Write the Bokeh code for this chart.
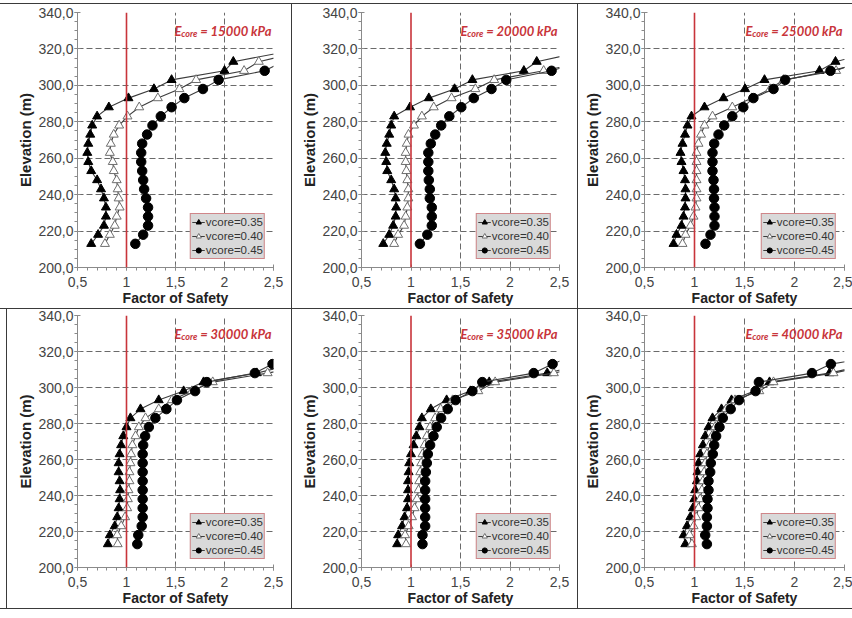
from bokeh.plotting import figure
from bokeh.layouts import row, column
from bokeh.models import (Range1d, SingleIntervalTicker, FixedTicker, Span, Label,
                          Legend, LegendItem, Spacer)
from bokeh.embed import file_html
from bokeh.resources import INLINE

# ---------------- data ----------------
ELEVATION = [213, 218, 223, 228, 233, 238, 243, 248, 253, 258, 263,
             268, 273, 278, 283, 288, 293, 298, 303, 308, 313, 318]

SERIES_LABELS = ["vcore=0.35", "vcore=0.40", "vcore=0.45"]
E_CORE = ["15000", "20000", "25000", "30000", "35000", "40000"]

X_TICKS = [0.5, 1.0, 1.5, 2.0, 2.5]
X_TICK_LABELS = ["0,5", "1", "1,5", "2", "2,5"]
Y_TICKS = [200, 220, 240, 260, 280, 300, 320, 340]
Y_TICK_LABELS = ["200,0", "220,0", "240,0", "260,0", "280,0", "300,0", "320,0", "340,0"]
X_GRID = [1.5, 2.0]
Y_GRID = [220, 240, 260, 280, 300, 320]

E15000_V035 = [0.64, 0.71, 0.77, 0.79, 0.79, 0.77, 0.74, 0.70, 0.64, 0.61, 0.60,
               0.61, 0.63, 0.65, 0.70, 0.82, 1.02, 1.28, 1.46, 2.00, 2.09, 2.58]
E15000_V040 = [0.78, 0.83, 0.88, 0.90, 0.93, 0.92, 0.91, 0.90, 0.87, 0.86, 0.83,
               0.84, 0.87, 0.925, 1.01, 1.13, 1.32, 1.54, 1.71, 2.20, 2.35, 2.75]
E15000_V045 = [1.09, 1.17, 1.22, 1.22, 1.22, 1.20, 1.18, 1.17, 1.16, 1.15, 1.15,
               1.16, 1.21, 1.265, 1.35, 1.46, 1.59, 1.78, 1.94, 2.41, 2.60]

E20000_V035 = [0.72, 0.78, 0.82, 0.845, 0.85, 0.845, 0.83, 0.80, 0.76, 0.75, 0.74,
               0.755, 0.78, 0.80, 0.83, 0.99, 1.18, 1.44, 1.62, 2.14, 2.27, 2.69]
E20000_V040 = [0.83, 0.87, 0.93, 0.946, 0.963, 0.973, 0.973, 0.963, 0.953, 0.946, 0.946,
               0.957, 0.975, 1.03, 1.11, 1.23, 1.41, 1.65, 1.84, 2.34, 2.77]
E20000_V045 = [1.09, 1.165, 1.21, 1.21, 1.21, 1.19, 1.19, 1.18, 1.175, 1.175, 1.175,
               1.20, 1.245, 1.305, 1.387, 1.508, 1.634, 1.813, 1.962, 2.42, 2.73]

E25000_V035 = [0.79, 0.82, 0.87, 0.89, 0.905, 0.91, 0.91, 0.905, 0.89, 0.87, 0.86,
               0.88, 0.905, 0.93, 0.97, 1.10, 1.29, 1.505, 1.70, 2.25, 2.41, 2.76]
E25000_V040 = [0.88, 0.91, 0.96, 0.99, 1.01, 1.02, 1.02, 1.02, 1.02, 1.02, 1.02,
               1.04, 1.065, 1.10, 1.18, 1.378, 1.572, 1.756, 1.89, 2.416, 2.64]
E25000_V045 = [1.11, 1.16, 1.20, 1.20, 1.20, 1.195, 1.195, 1.19, 1.18, 1.18, 1.18,
               1.197, 1.24, 1.297, 1.378, 1.488, 1.589, 1.79, 1.907, 2.36, 2.74]

E30000_V035 = [0.81, 0.83, 0.88, 0.905, 0.92, 0.93, 0.935, 0.93, 0.92, 0.92, 0.93,
               0.945, 0.967, 1.00, 1.04, 1.143, 1.329, 1.583, 1.786, 2.33, 2.70]
E30000_V040 = [0.91, 0.905, 0.946, 0.986, 1.007, 1.014, 1.02, 1.03, 1.03, 1.04, 1.047,
               1.06, 1.092, 1.126, 1.194, 1.329, 1.464, 1.667, 1.88, 2.44, 2.90]
E30000_V045 = [1.11, 1.12, 1.155, 1.165, 1.165, 1.165, 1.165, 1.165, 1.165, 1.165, 1.165,
               1.17, 1.19, 1.228, 1.295, 1.407, 1.515, 1.70, 1.82, 2.31, 2.49]

E35000_V035 = [0.86, 0.87, 0.91, 0.935, 0.96, 0.97, 0.97, 0.97, 0.976, 0.982, 1.00,
               1.026, 1.053, 1.085, 1.11, 1.20, 1.36, 1.60, 1.79, 2.376, 2.75]
E35000_V040 = [0.95, 0.94, 0.976, 1.01, 1.036, 1.06, 1.076, 1.083, 1.093, 1.103, 1.116,
               1.137, 1.16, 1.193, 1.244, 1.30, 1.42, 1.68, 1.85, 2.443, 2.85]
E35000_V045 = [1.116, 1.116, 1.143, 1.143, 1.143, 1.143, 1.143, 1.143, 1.15, 1.16, 1.17,
               1.193, 1.227, 1.26, 1.304, 1.371, 1.451, 1.62, 1.72, 2.24, 2.43, 2.65]

E40000_V035 = [0.908, 0.891, 0.925, 0.958, 0.984, 0.998, 1.007, 1.024, 1.03, 1.04, 1.057,
               1.084, 1.107, 1.14, 1.18, 1.27, 1.37, 1.60, 1.75, 2.35, 2.75]
E40000_V040 = [0.974, 0.951, 0.991, 1.017, 1.04, 1.057, 1.074, 1.084, 1.097, 1.107, 1.124,
               1.15, 1.173, 1.206, 1.25, 1.316, 1.405, 1.648, 1.79, 2.39, 2.80]
E40000_V045 = [1.124, 1.107, 1.124, 1.124, 1.13, 1.13, 1.14, 1.14, 1.157, 1.163, 1.183,
               1.197, 1.216, 1.25, 1.283, 1.362, 1.445, 1.611, 1.644, 2.175, 2.364, 2.90]

PANEL_SERIES = [
    (E15000_V035, E15000_V040, E15000_V045),
    (E20000_V035, E20000_V040, E20000_V045),
    (E25000_V035, E25000_V040, E25000_V045),
    (E30000_V035, E30000_V040, E30000_V045),
    (E35000_V035, E35000_V040, E35000_V045),
    (E40000_V035, E40000_V040, E40000_V045),
]

# ---------------- styling ----------------
FONT = "Liberation Sans"
TITLE_FONT = "Lato"
RED = "#c8343a"
SEP = "#3a3a3a"

MARKERS = [
    dict(marker="triangle", size=9, fill_color="black", line_color="black"),
    dict(marker="triangle", size=9, fill_color="white", line_color="#6e6e6e"),
    dict(marker="circle", size=9.5, fill_color="black", line_color="black"),
]

# per panel: (fig width, left border, right border, fig height, top border, bottom border)
GEOM = [
    (291, 77, 18, 304, 8, 40),
    (285, 69, 18, 304, 8, 40),
    (274, 66, 8, 304, 8, 40),
    (284, 70, 18, 299, 6, 36),
    (285, 69, 18, 299, 6, 36),
    (274, 66, 8, 299, 6, 36),
]


def make_panel(idx):
    cw, bl, br, rh, bt, bb = GEOM[idx]
    p = figure(width=cw, height=rh, output_backend="svg", toolbar_location=None,
               x_range=Range1d(0.5, 2.5), y_range=Range1d(200, 340),
               min_border_left=bl, min_border_right=br,
               min_border_top=bt, min_border_bottom=bb,
               x_axis_label="Factor of Safety", y_axis_label="Elevation (m)")
    p.outline_line_color = None
    p.background_fill_color = "white"
    p.border_fill_color = "white"

    p.xaxis.ticker = SingleIntervalTicker(interval=0.5, num_minor_ticks=5)
    p.yaxis.ticker = SingleIntervalTicker(interval=20, num_minor_ticks=4)
    p.xaxis.major_label_overrides = dict(zip(X_TICKS, X_TICK_LABELS))
    p.yaxis.major_label_overrides = dict(zip(Y_TICKS, Y_TICK_LABELS))

    for ax in (p.xaxis, p.yaxis):
        ax.axis_line_color = "#8a8a8a"
        ax.major_tick_line_color = "#8a8a8a"
        ax.minor_tick_line_color = "#8a8a8a"
        ax.major_tick_in = 3
        ax.major_tick_out = 3
        ax.minor_tick_in = 0
        ax.minor_tick_out = 3
        ax.major_label_text_font = FONT
        ax.major_label_text_font_size = "14px"
        ax.major_label_text_color = "#444444"
        ax.axis_label_text_font = FONT
        ax.axis_label_text_font_style = "bold"
        ax.axis_label_text_color = "#222222"
    p.xaxis.major_label_standoff = 6
    p.yaxis.major_label_standoff = 1
    p.xaxis.axis_label_standoff = 0
    p.yaxis.axis_label_standoff = 1
    p.xaxis.axis_label_text_font_size = "14px"
    p.yaxis.axis_label_text_font_size = "15px"

    p.xgrid.ticker = FixedTicker(ticks=X_GRID)
    p.ygrid.ticker = FixedTicker(ticks=Y_GRID)
    for g in (p.xgrid, p.ygrid):
        g.grid_line_color = "#6a6a6a"
        g.grid_line_dash = "6 3"
        g.grid_line_width = 1

    p.add_layout(Span(location=1.0, dimension="height", line_color=RED, line_width=1.6))

    items = []
    for s, label, mk in zip(PANEL_SERIES[idx], SERIES_LABELS, MARKERS):
        ys = ELEVATION[:len(s)]
        lr = p.line(x=s, y=ys, line_color="#3c3c3c", line_width=1.1)
        sr = p.scatter(x=s, y=ys, line_width=1, **mk)
        items.append(LegendItem(label=label, renderers=[lr, sr]))

    legend = Legend(items=items, location="bottom_right", margin=8,
                    padding=1, spacing=0, label_standoff=1,
                    glyph_width=13, glyph_height=14, label_height=14,
                    label_text_font=FONT, label_text_font_size="11.5px",
                    label_text_color="#333333",
                    border_line_color=RED, border_line_width=1.5,
                    background_fill_color="#d9d9d9", background_fill_alpha=1.0)
    p.add_layout(legend)

    # title: E_core = NNNNN kPa (bold italic, red)
    main = Label(x=2.5, y=340, x_offset=-2, y_offset=-18, text="= " + E_CORE[idx] + " kPa",
                 text_align="right", text_baseline="alphabetic", text_color=RED,
                 text_font=TITLE_FONT, text_font_style="bold italic", text_font_size="13px")
    sub = Label(x=2.5, y=340, x_offset=-76, y_offset=-21, text="core",
                text_align="right", text_baseline="alphabetic", text_color=RED,
                text_font=TITLE_FONT, text_font_style="bold italic", text_font_size="9px")
    big_e = Label(x=2.5, y=340, x_offset=-92, y_offset=-18, text="E",
                  text_align="right", text_baseline="alphabetic", text_color=RED,
                  text_font=TITLE_FONT, text_font_style="bold italic", text_font_size="13px")
    for lab in (main, sub, big_e):
        p.add_layout(lab)
    return p


figs = [make_panel(i) for i in range(6)]


def vline(h):
    return Spacer(width=1, height=h, background=SEP)


def hline():
    return Spacer(width=852, height=1, background=SEP)


layout = column(
    Spacer(width=852, height=3),
    hline(),
    row(figs[0], vline(304), figs[1], vline(304), figs[2]),
    hline(),
    row(Spacer(width=6, height=299), vline(299), figs[3], vline(299), figs[4],
        vline(299), figs[5]),
    hline(),
)

with open("out.html", "w") as f:
    f.write(file_html(layout, INLINE, title="Factor of Safety vs Elevation"))
